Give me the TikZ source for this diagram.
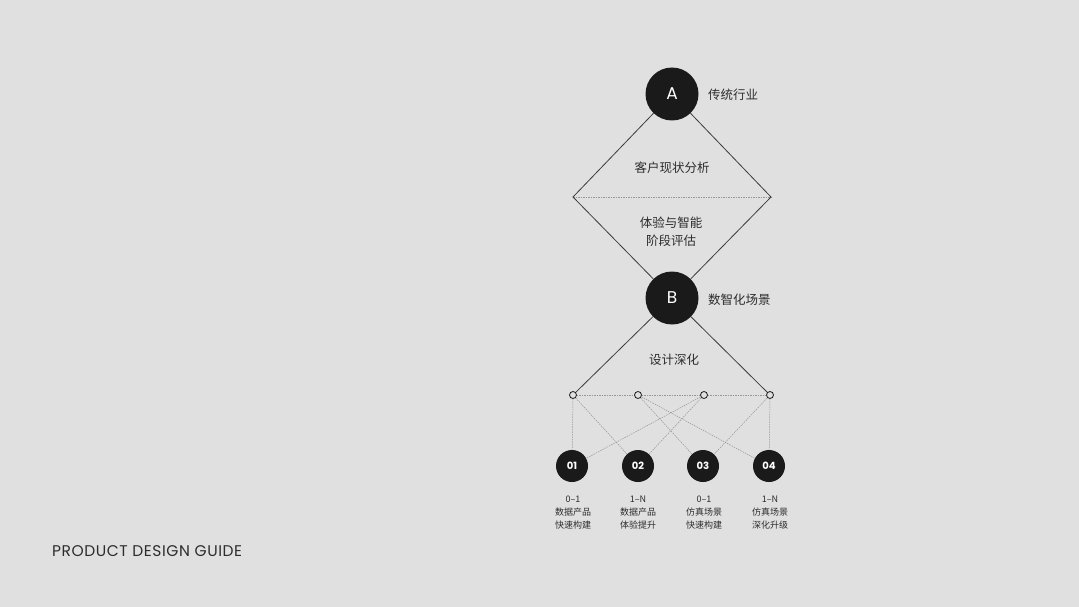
\documentclass[tikz,border=0pt]{standalone}
\usepackage{fontspec}
\setmainfont{Noto Sans CJK SC}
\newfontfamily\cjk{Noto Sans CJK SC}
\newfontfamily\latinf{Poppins}
\newfontfamily\guidef[LetterSpace=3.5]{Poppins}
\usetikzlibrary{calc}
\definecolor{bg}{RGB}{224,224,224}
\definecolor{ink}{RGB}{26,26,26}
\definecolor{txt}{RGB}{45,45,45}
\definecolor{dash}{RGB}{150,150,150}
\begin{document}
\begin{tikzpicture}[x=1pt,y=-1pt,
  bigc/.style={circle,fill=ink,minimum size=53pt,inner sep=0pt,text=white,font=\latinf\fontsize{17}{17}\selectfont},
  numc/.style={circle,fill=ink,minimum size=32pt,inner sep=0pt,text=white,font=\latinf\bfseries\fontsize{10}{10}\selectfont},
  smallc/.style={circle,draw=ink,fill=bg,line width=0.8pt,minimum size=7pt,inner sep=0pt},
  solidln/.style={draw=ink!85,line width=0.8pt},
  dashln/.style={draw=dash,line width=0.5pt,dash pattern=on 1.5pt off 1pt},
  lbl/.style={text=txt,font=\cjk\fontsize{12.5}{18}\selectfont,align=center,inner sep=0pt},
  sublbl/.style={text=txt,font=\cjk\fontsize{9}{13}\selectfont,align=center,inner sep=0pt}]
\fill[bg] (0,0) rectangle (1079,607);
\useasboundingbox (0,0) rectangle (1079,607);
% diamond
\coordinate (L) at (573,197);
\coordinate (R) at (771,197);
\node[bigc] (A) at (672,94) {A};
\node[bigc] (B) at (672,298) {B};
\draw[dashln] (L) -- (R);
\draw[solidln] (A) -- (L) -- (B);
\draw[solidln] (A) -- (R) -- (B);
% small circles
\node[smallc] (c1) at (573,395) {};
\node[smallc] (c2) at (638,395) {};
\node[smallc] (c3) at (704,395) {};
\node[smallc] (c4) at (770,395) {};
\draw[solidln] (B) -- (c1);
\draw[solidln] (B) -- (c4);
% number circles
\node[numc] (n1) at (572,466) {01};
\node[numc] (n2) at (638,466) {02};
\node[numc] (n3) at (703,466) {03};
\node[numc] (n4) at (769,466) {04};
\draw[dashln] (c1) -- (c2);
\draw[dashln] (c2) -- (c3);
\draw[dashln] (c3) -- (c4);
\draw[dashln] (c1) -- (n1);
\draw[dashln] (c1) -- (n2);
\draw[dashln] (c2) -- (n3);
\draw[dashln] (c2) -- (n4);
\draw[dashln] (c3) -- (n1);
\draw[dashln] (c3) -- (n2);
\draw[dashln] (c4) -- (n3);
\draw[dashln] (c4) -- (n4);
% labels
\node[lbl,anchor=west] (tA) at (708,94.5) {传统行业};
\node[lbl,anchor=west] (tB) at (708,300) {数智化场景};
\node[lbl] (t1) at (672,167.5) {客户现状分析};
\node[lbl] (t2) at (671,231.5) {体验与智能\\阶段评估};
\node[lbl] (t3) at (674,359.5) {设计深化};
\node[sublbl] (s1) at (573,513) {0–1\\数据产品\\快速构建};
\node[sublbl] (s2) at (638,513) {1–N\\数据产品\\体验提升};
\node[sublbl] (s3) at (704,513) {0–1\\仿真场景\\快速构建};
\node[sublbl] (s4) at (770,513) {1–N\\仿真场景\\深化升级};
\node[anchor=west,inner sep=0pt,text=txt,font=\guidef\fontsize{15.5}{16}\selectfont] (g) at (52,551) {PRODUCT DESIGN GUIDE};
\end{tikzpicture}
\end{document}
